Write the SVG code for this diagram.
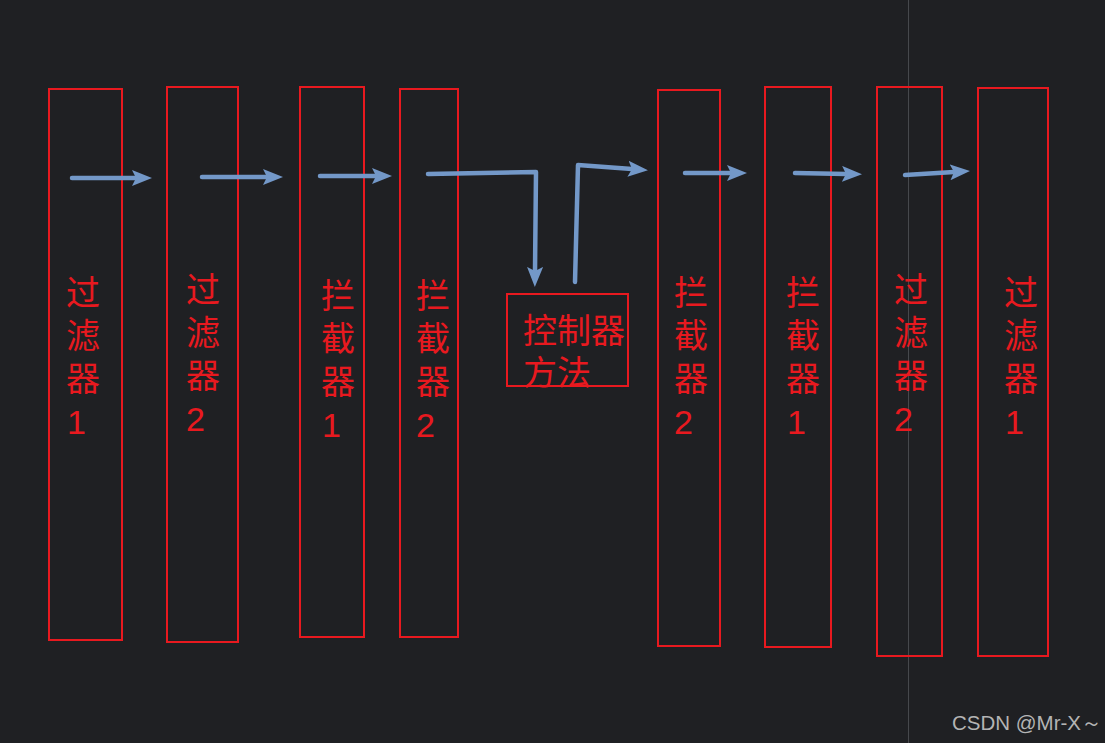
<svg xmlns="http://www.w3.org/2000/svg" width="1105" height="743" viewBox="0 0 1105 743">
<style>
.box{fill:none;stroke:#e8191f;stroke-width:2}
.lbl{font-family:"Liberation Sans","Noto Sans CJK SC",sans-serif;font-size:34px;fill:#e8191f}
.arr{fill:none;stroke:#7398c8;stroke-width:4.5;stroke-linecap:round;stroke-linejoin:round;marker-end:url(#ah)}
.wm{font-family:"Liberation Sans","DejaVu Sans",sans-serif;font-size:20.5px;fill:#b4b4b4}
</style>
<defs>
<marker id="ah" markerUnits="userSpaceOnUse" markerWidth="20" markerHeight="16" viewBox="0 0 20 16" refX="4" refY="8" orient="auto">
<path d="M0,0 L20,8 L0,16 L4,8 z" fill="#7398c8"/>
</marker>
</defs>
<rect width="1105" height="743" fill="#1f2023"/>
<line x1="908.5" y1="0" x2="908.5" y2="743" stroke="#46484c" stroke-width="1"/>
<g id="filter1"><rect class="box" x="49" y="89" width="73" height="551"/><text class="lbl" x="66" y="305">过<tspan x="66" dy="43">滤</tspan><tspan x="66" dy="43">器</tspan><tspan x="67" dy="43">1</tspan></text></g>
<g id="filter2"><rect class="box" x="167" y="87" width="71" height="555"/><text class="lbl" x="186" y="302">过<tspan x="186" dy="43">滤</tspan><tspan x="186" dy="43">器</tspan><tspan x="186" dy="43">2</tspan></text></g>
<g id="interceptor1"><rect class="box" x="300" y="87" width="64" height="550"/><text class="lbl" x="321" y="308">拦<tspan x="321" dy="43">截</tspan><tspan x="321" dy="43">器</tspan><tspan x="322" dy="43">1</tspan></text></g>
<g id="interceptor2"><rect class="box" x="400" y="89" width="58" height="548"/><text class="lbl" x="416" y="308">拦<tspan x="416" dy="43">截</tspan><tspan x="416" dy="43">器</tspan><tspan x="416" dy="43">2</tspan></text></g>
<g id="controller"><rect class="box" x="507" y="294" width="121" height="92"/><text class="lbl" x="523" y="343">控制器<tspan x="523" dy="42">方法</tspan></text></g>
<g id="interceptor2b"><rect class="box" x="658" y="90" width="62" height="556"/><text class="lbl" x="674" y="305">拦<tspan x="674" dy="43">截</tspan><tspan x="674" dy="43">器</tspan><tspan x="674" dy="43">2</tspan></text></g>
<g id="interceptor1b"><rect class="box" x="765" y="87" width="66" height="560"/><text class="lbl" x="786" y="305">拦<tspan x="786" dy="43">截</tspan><tspan x="786" dy="43">器</tspan><tspan x="787" dy="43">1</tspan></text></g>
<g id="filter2b"><rect class="box" x="877" y="87" width="65" height="569"/><text class="lbl" x="894" y="302">过<tspan x="894" dy="43">滤</tspan><tspan x="894" dy="43">器</tspan><tspan x="894" dy="43">2</tspan></text></g>
<g id="filter1b"><rect class="box" x="978" y="88" width="70" height="568"/><text class="lbl" x="1004" y="305">过<tspan x="1004" dy="43">滤</tspan><tspan x="1004" dy="43">器</tspan><tspan x="1005" dy="43">1</tspan></text></g>
<g id="connectors">
<path class="arr" d="M72,178 L136,178"/>
<path class="arr" d="M202,177 L267,177"/>
<path class="arr" d="M320,176 L376,176"/>
<path class="arr" d="M428,174 L536,172 L535,271"/>
<path class="arr" d="M575,282 L578,165 L632,169"/>
<path class="arr" d="M685,173 L731,173"/>
<path class="arr" d="M795,173 L846,174"/>
<path class="arr" d="M905,175 L954,172"/>
</g>
<text class="wm" x="952" y="730">CSDN @Mr-X～</text>
</svg>
